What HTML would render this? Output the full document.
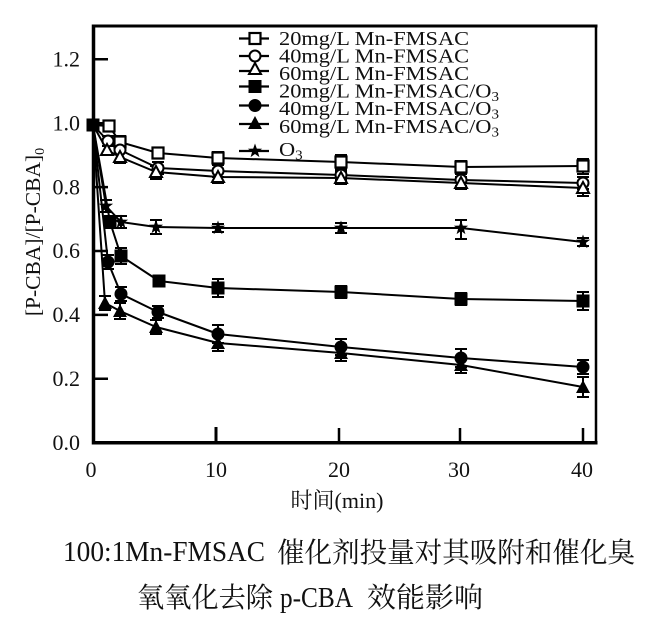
<!DOCTYPE html>
<html>
<head>
<meta charset="utf-8">
<style>
html,body{margin:0;padding:0;background:#fff;}
svg{display:block;}
text{font-family:"Liberation Serif","Noto Serif CJK SC",serif;fill:#111;}
</style>
</head>
<body>
<svg width="653" height="621" viewBox="0 0 653 621" xmlns="http://www.w3.org/2000/svg">
<rect width="653" height="621" fill="#fff"/>
<defs>
<rect id="osq" x="-5.5" y="-5.5" width="11" height="11" fill="#fff" stroke="#000" stroke-width="2.2"/>
<circle id="oci" r="5.5" fill="#fff" stroke="#000" stroke-width="2"/>
<polygon id="otr" points="0,-6 6,5 -6,5" fill="#fff" stroke="#000" stroke-width="2"/>
<rect id="fsq" x="-6.5" y="-6.5" width="13" height="13" fill="#000"/>
<circle id="fci" r="6.5" fill="#000"/>
<polygon id="ftr" points="0,-7 7,6 -7,6" fill="#000"/>
<polygon id="fst" points="0,-7.5 1.8,-2.4 7.1,-2.3 2.9,0.9 4.4,6.1 0,3 -4.4,6.1 -2.9,0.9 -7.1,-2.3 -1.8,-2.4" fill="#000"/>
</defs>
<g stroke="#000" fill="none">
<line x1="93.5" y1="24.5" x2="93.5" y2="444.5" stroke-width="3.5"/>
<line x1="92" y1="442.7" x2="597.5" y2="442.7" stroke-width="3.5"/>
<line x1="92" y1="26" x2="597.5" y2="26" stroke-width="3"/>
<line x1="596" y1="24.5" x2="596" y2="444.5" stroke-width="2.5"/>
<path stroke-width="2.5" d="M93,59.3H108M93,123.2H108M93,187.1H108M93,251H108M93,314.9H108M93,378.8H108"/>
<path stroke-width="3" d="M216,442V427"/>
<path stroke-width="2.5" d="M339,442V428M460,442V428M583,442V428"/>
</g>
<g font-size="22" text-anchor="end">
<text x="80" y="66.5">1.2</text>
<text x="80" y="130.5">1.0</text>
<text x="80" y="194.5">0.8</text>
<text x="80" y="258">0.6</text>
<text x="80" y="322">0.4</text>
<text x="80" y="386">0.2</text>
<text x="80" y="450">0.0</text>
</g>
<g font-size="22" text-anchor="middle">
<text x="91" y="477">0</text>
<text x="216" y="477">10</text>
<text x="339" y="477">20</text>
<text x="459" y="477">30</text>
<text x="582" y="477">40</text>
</g>
<text x="337" y="508" font-size="22" text-anchor="middle">时间(min)</text>
<text transform="translate(40 232) rotate(-90)" font-size="21.5" text-anchor="middle">[P-CBA]/[P-CBA]<tspan font-size="14" dy="4">0</tspan></text>
<g stroke="#000" stroke-width="2" fill="none" stroke-linejoin="round">
<polyline points="93,125 109,126 120,142 158,153 218,158 341,162 461,167 583,166"/>
<polyline points="93,125 108,141 120,150 158,168 218,171 341,175 461,180 583,183"/>
<polyline points="93,125 107,150 120,157 156,172 218,177 341,178 461,183 583,188"/>
<polyline points="93,125 110,222 121,256 159,281 218,288 341,292 461,299 583,301"/>
<polyline points="93,125 108,262 121,294 158,312 218,334 341,347 461,358 583,367"/>
<polyline points="93,125 105,303 120,311 156,327 218,343 341,353 461,365 583,387"/>
<polyline points="93,125 106,206 121,222 156,227 218,228 341,228 461,228 583,242"/>
</g>
<g stroke="#000" stroke-width="2" fill="none">
<path d="M109,121V131M103,121H115M103,131H115M120,136V148M114,136H126M114,148H126M158,148V158M152,148H164M152,158H164M218,152V164M212,152H224M212,164H224M341,155V169M335,155H347M335,169H347M461,161V173M455,161H467M455,173H467M583,159V174M577,159H589M577,174H589"/>
<path d="M108,136V146M102,136H114M102,146H114M158,162V174M152,162H164M152,174H164M218,165V177M212,165H224M212,177H224M341,170V180M335,170H347M335,180H347M461,174V186M455,174H467M455,186H467M583,177V189M577,177H589M577,189H589"/>
<path d="M120,151V163M114,151H126M114,163H126M156,166V179M150,166H162M150,179H162M218,171V183M212,171H224M212,183H224M341,172V184M335,172H347M335,184H347M461,177V189M455,177H467M455,189H467M583,181V196M577,181H589M577,196H589"/>
<path d="M110,216V228M104,216H116M104,228H116M121,248V264M115,248H127M115,264H127M159,276V286M153,276H165M153,286H165M218,279V297M212,279H224M212,297H224M341,286V298M335,286H347M335,298H347M461,293V305M455,293H467M455,305H467M583,292V310M577,292H589M577,310H589"/>
<path d="M108,255V269M102,255H114M102,269H114M121,287V301M115,287H127M115,301H127M158,306V318M152,306H164M152,318H164M218,325V343M212,325H224M212,343H224M341,339V355M335,339H347M335,355H347M461,349V367M455,349H467M455,367H467M583,360V374M577,360H589M577,374H589"/>
<path d="M105,296V310M99,296H111M99,310H111M120,303V319M114,303H126M114,319H126M156,320V334M150,320H162M150,334H162M218,336V351M212,336H224M212,351H224M341,345V361M335,345H347M335,361H347M461,357V373M455,357H467M455,373H467M583,377V397M577,377H589M577,397H589"/>
<path d="M106,200V212M100,200H112M100,212H112M121,216V228M115,216H127M115,228H127M156,220V234M150,220H162M150,234H162M218,224V232M212,224H224M212,232H224M341,223V233M335,223H347M335,233H347M461,220V239M455,220H467M455,239H467M583,238V246M577,238H589M577,246H589"/>
</g>
<use href="#fsq" x="93" y="125"/>
<use href="#osq" x="109" y="126"/><use href="#osq" x="120" y="142"/><use href="#osq" x="158" y="153"/><use href="#osq" x="218" y="158"/><use href="#osq" x="341" y="162"/><use href="#osq" x="461" y="167"/><use href="#osq" x="583" y="166"/>
<use href="#oci" x="108" y="141"/><use href="#oci" x="120" y="150"/><use href="#oci" x="158" y="168"/><use href="#oci" x="218" y="171"/><use href="#oci" x="341" y="175"/><use href="#oci" x="461" y="180"/><use href="#oci" x="583" y="183"/>
<use href="#otr" x="107" y="150"/><use href="#otr" x="120" y="157"/><use href="#otr" x="156" y="172"/><use href="#otr" x="218" y="177"/><use href="#otr" x="341" y="178"/><use href="#otr" x="461" y="183"/><use href="#otr" x="583" y="188"/>
<use href="#fsq" x="110" y="222"/><use href="#fsq" x="121" y="256"/><use href="#fsq" x="159" y="281"/><use href="#fsq" x="218" y="288"/><use href="#fsq" x="341" y="292"/><use href="#fsq" x="461" y="299"/><use href="#fsq" x="583" y="301"/>
<use href="#fci" x="108" y="262"/><use href="#fci" x="121" y="294"/><use href="#fci" x="158" y="312"/><use href="#fci" x="218" y="334"/><use href="#fci" x="341" y="347"/><use href="#fci" x="461" y="358"/><use href="#fci" x="583" y="367"/>
<use href="#ftr" x="105" y="303"/><use href="#ftr" x="120" y="311"/><use href="#ftr" x="156" y="327"/><use href="#ftr" x="218" y="343"/><use href="#ftr" x="341" y="353"/><use href="#ftr" x="461" y="365"/><use href="#ftr" x="583" y="387"/>
<use href="#fst" x="106" y="206"/><use href="#fst" x="121" y="222"/><use href="#fst" x="156" y="227"/><use href="#fst" x="218" y="228"/><use href="#fst" x="341" y="228"/><use href="#fst" x="461" y="228"/><use href="#fst" x="583" y="242"/>
<path stroke="#000" stroke-width="2.2" d="M239,38.5H269M239,56H269M239,71H269M239,86.5H269M239,105.5H269M239,124H269M239,151H269"/>
<use href="#osq" x="255" y="38.5"/>
<use href="#oci" x="255" y="56"/>
<use href="#otr" x="255" y="69"/>
<use href="#fsq" x="255" y="86.5"/>
<use href="#fci" x="255" y="105.5"/>
<use href="#ftr" x="255" y="123"/>
<use href="#fst" x="255" y="151"/>
<g transform="translate(279 0) scale(1.12 1)" font-size="20">
<text x="0" y="45">20mg/L Mn-FMSAC</text>
<text x="0" y="62.5">40mg/L Mn-FMSAC</text>
<text x="0" y="80">60mg/L Mn-FMSAC</text>
<text x="0" y="97.5">20mg/L Mn-FMSAC/O<tspan font-size="13.5" dy="3.5">3</tspan></text>
<text x="0" y="115">40mg/L Mn-FMSAC/O<tspan font-size="13.5" dy="3.5">3</tspan></text>
<text x="0" y="133">60mg/L Mn-FMSAC/O<tspan font-size="13.5" dy="3.5">3</tspan></text>
<text x="0" y="156">O<tspan font-size="13.5" dy="3.5">3</tspan></text>
</g>
<g font-size="28">
<text x="63" y="561" textLength="202" lengthAdjust="spacingAndGlyphs">100:1Mn-FMSAC</text>
<text x="277" y="562" textLength="358" lengthAdjust="spacingAndGlyphs">催化剂投量对其吸附和催化臭</text>
<text x="137" y="607" textLength="136" lengthAdjust="spacingAndGlyphs">氧氧化去除</text>
<text x="280" y="607" textLength="73" lengthAdjust="spacingAndGlyphs">p-CBA</text>
<text x="367" y="607" textLength="116" lengthAdjust="spacingAndGlyphs">效能影响</text>
</g>
</svg>
</body>
</html>
